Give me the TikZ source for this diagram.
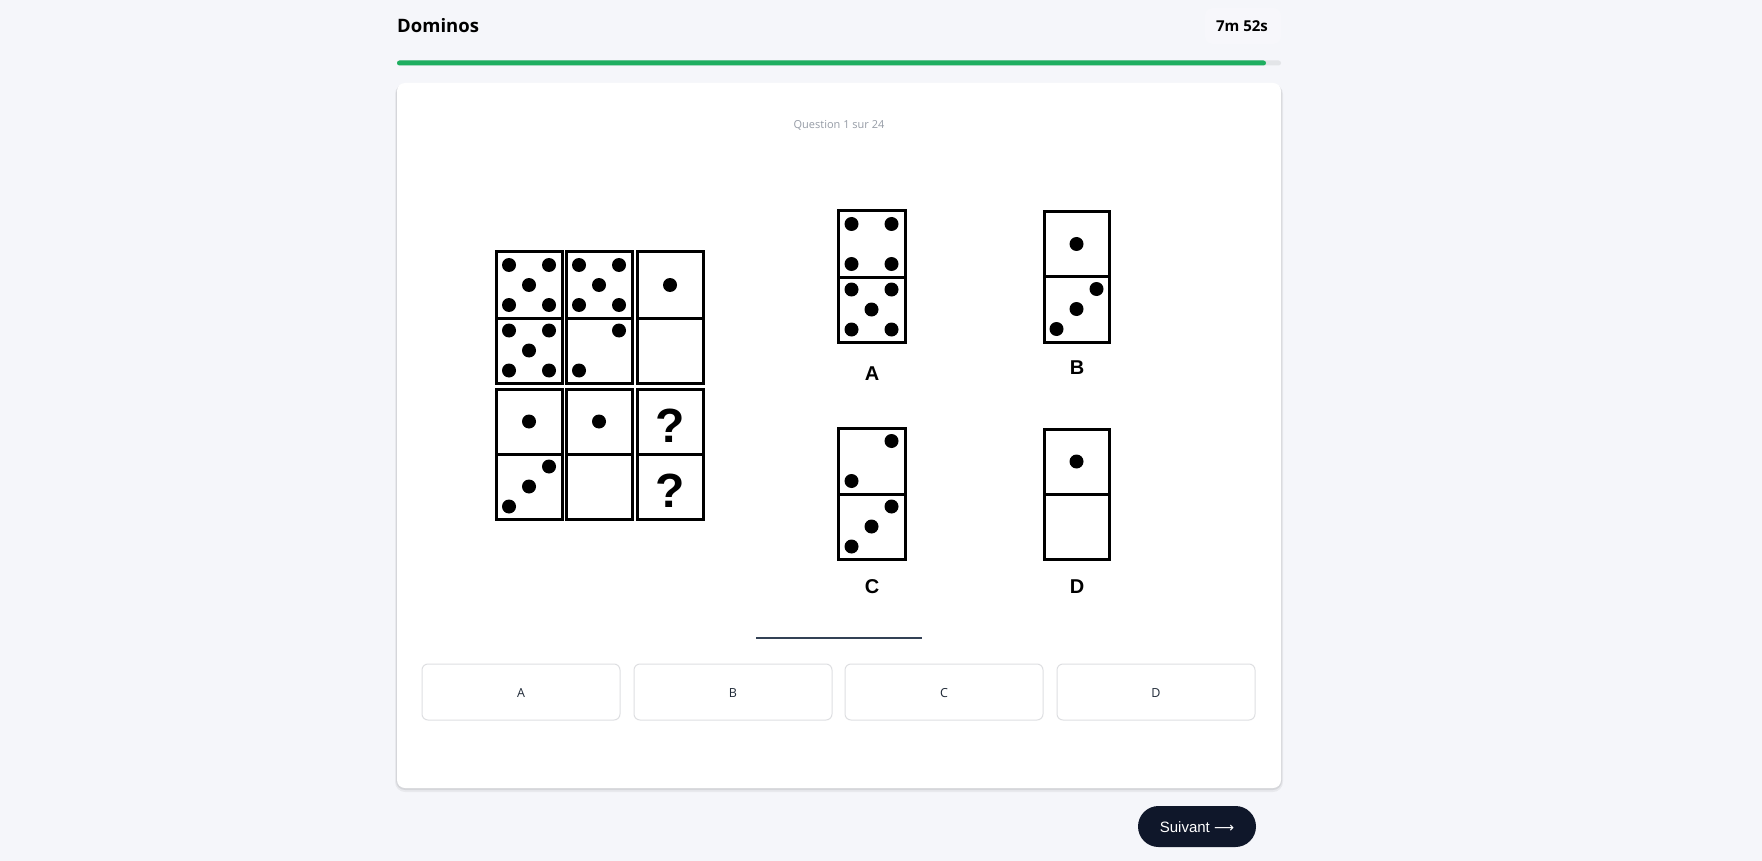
\documentclass[tikz,border=0pt]{standalone}
\usepackage{fontspec}
\setmainfont{Open Sans}
\newfontfamily\arialf{Liberation Sans}
\newfontfamily\djvf{DejaVu Sans}
\definecolor{bgc}{HTML}{F5F6FA}
\definecolor{barg}{HTML}{1EAE60}
\definecolor{track}{HTML}{E3E5E8}
\definecolor{btnb}{HTML}{DEDFE2}
\definecolor{navy}{HTML}{0F172A}
\definecolor{slate}{HTML}{334155}
\definecolor{qgray}{HTML}{969CA6}
\definecolor{txt}{HTML}{1F2937}
\newcommand\pipat[2]{\fill (#1,#2) circle (7pt);}
\newcommand\pone[2]{\pipat{#1}{#2}}
\newcommand\ptwo[2]{\pipat{#1+20}{#2-20}\pipat{#1-20}{#2+20}}
\newcommand\pthree[2]{\pipat{#1+20}{#2-20}\pipat{#1}{#2}\pipat{#1-20}{#2+20}}
\newcommand\pfour[2]{\pipat{#1+20}{#2-20}\pipat{#1-20}{#2+20}\pipat{#1-20}{#2-20}\pipat{#1+20}{#2+20}}
\newcommand\pfive[2]{\pfour{#1}{#2}\pipat{#1}{#2}}
\begin{document}
\begin{tikzpicture}[x=1pt,y=-1pt,
  dom/.style={draw=black,line width=3pt},
  optbtn/.style={draw=btnb,line width=1pt,rounded corners=6pt,fill=white},
  btnlabel/.style={font=\fontsize{12.5}{14}\selectfont,text=txt,anchor=base,inner sep=0pt},
  domlabel/.style={font=\arialf\bfseries\fontsize{20}{22}\selectfont,anchor=base,inner sep=0pt},
  qmark/.style={font=\arialf\bfseries\fontsize{48}{50}\selectfont,anchor=base,inner sep=0pt}]
\useasboundingbox (0,0) rectangle (1762,861);
\fill[bgc] (0,0) rectangle (1762,861);
% header
\node[font=\bfseries\fontsize{18.5}{20}\selectfont,anchor=base west,inner sep=0pt] (title) at (397,33) {Dominos};
\fill[white,opacity=0.2,rounded corners=8pt] (1205,8) rectangle (1281,44);
\node[font=\bfseries\fontsize{15}{17}\selectfont,anchor=base,inner sep=0pt] (timer) at (1242,31.5) {7m 52s};
% progress bar
\fill[track,rounded corners=2.5pt] (397,60.5) rectangle (1281,65.5);
\fill[barg,rounded corners=2.5pt] (397,60.5) rectangle (1266,65.5);
% card
\fill[black,opacity=0.05,rounded corners=10pt] (395,84) rectangle (1283,792);
\fill[black,opacity=0.08,rounded corners=9pt] (396,84) rectangle (1282,790);
\fill[white,rounded corners=8pt] (397,83) rectangle (1281,788);
\node[font=\fontsize{11}{13}\selectfont,text=qgray,anchor=base,inner sep=0pt] (question) at (839,128.5) {Question 1 sur 24};
% left grid
\draw[dom] (496,252) rectangle (562,383); \draw[dom] (496,318) -- (562,318);
\draw[dom] (566,252) rectangle (632,383); \draw[dom] (566,318) -- (632,318);
\draw[dom] (637,252) rectangle (703,383); \draw[dom] (637,318) -- (703,318);
\draw[dom] (496,389) rectangle (562,519); \draw[dom] (496,454) -- (562,454);
\draw[dom] (566,389) rectangle (632,519); \draw[dom] (566,454) -- (632,454);
\draw[dom] (637,389) rectangle (703,519); \draw[dom] (637,454) -- (703,454);
\pfive{529}{285}\pfive{529}{350.5}
\pfive{599}{285}\ptwo{599}{350.5}
\pone{670}{285}
\pone{529}{421.5}\pthree{529}{486.5}
\pone{599}{421.5}
\node[qmark] (q1) at (670,442) {?};
\node[qmark] (q2) at (670,507) {?};
% options
\draw[dom] (838,211) rectangle (905,342); \draw[dom] (838,277) -- (905,277);
\pfour{871.5}{244}\pfive{871.5}{309.5}
\node[domlabel] (la) at (872,380) {A};
\draw[dom] (1044,212) rectangle (1109,342); \draw[dom] (1044,276) -- (1109,276);
\pone{1076.5}{244}\pthree{1076.5}{309}
\node[domlabel] (lb) at (1077,374) {B};
\draw[dom] (838,428) rectangle (905,559); \draw[dom] (838,494) -- (905,494);
\ptwo{871.5}{461}\pthree{871.5}{526.5}
\node[domlabel] (lc) at (872,593) {C};
\draw[dom] (1044,429) rectangle (1109,559); \draw[dom] (1044,494) -- (1109,494);
\pone{1076.5}{461.5}
\node[domlabel] (ld) at (1077,593) {D};
% underline
\draw[slate,line width=1.2pt] (756,638) -- (922,638);
% answer buttons
\draw[optbtn] (422,664) rectangle (620,720);
\node[btnlabel] (ba) at (521,697.5) {A};
\draw[optbtn] (634,664) rectangle (832,720);
\node[btnlabel] (bb) at (733,697.5) {B};
\draw[optbtn] (845,664) rectangle (1043,720);
\node[btnlabel] (bc) at (944,697.5) {C};
\draw[optbtn] (1057,664) rectangle (1255,720);
\node[btnlabel] (bd) at (1156,697.5) {D};
% next button
\fill[navy,rounded corners=20.5pt] (1138,806) rectangle (1256,847);
\node[font=\arialf\fontsize{15}{17}\selectfont,text=white,anchor=base,inner sep=0pt] (next) at (1197,832.5) {Suivant {\djvf\fontsize{14}{16}\selectfont ⟶}};
\end{tikzpicture}
\end{document}
